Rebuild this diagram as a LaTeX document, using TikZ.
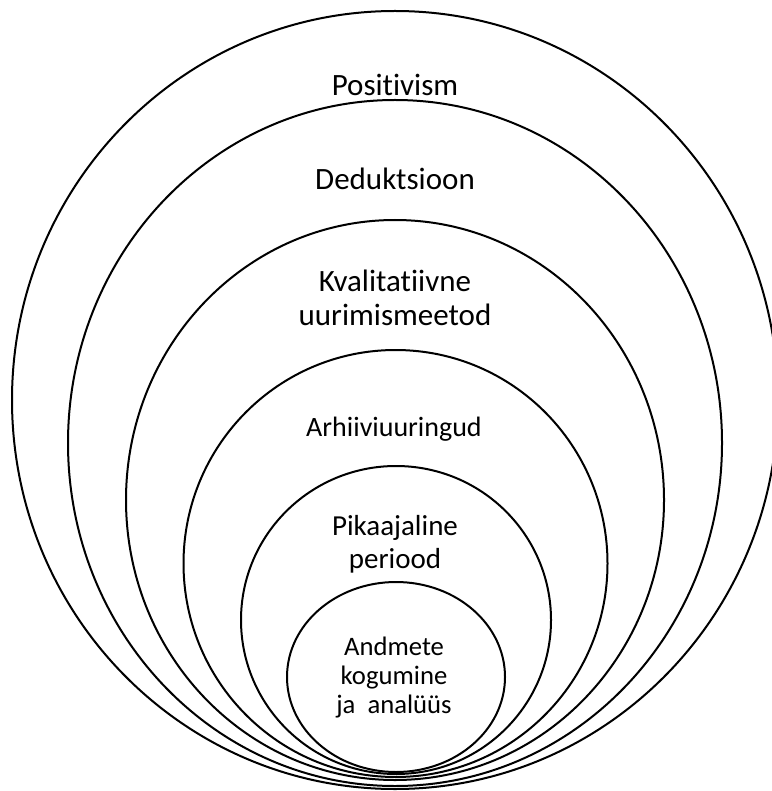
\documentclass[tikz,border=0pt]{standalone}
\usepackage{fontspec}
\setmainfont{Carlito}[Ligatures={NoCommon}]
\usetikzlibrary{shapes.geometric}

\begin{document}
\begin{tikzpicture}[x=0.75pt,y=-0.75pt,
		ring/.style={ellipse,draw,line width=1.5pt,inner sep=0pt},
		lbl/.style={anchor=base,align=center,inner sep=0pt}]
			\useasboundingbox (0,0) rectangle (771,791);
			\draw (395,400) node [ring,minimum width=574.5pt,minimum height=583.5pt] (pos) {};
			\draw (395,443) node [ring,minimum width=490.5pt,minimum height=514.5pt] (ded) {};
			\draw (395,500) node [ring,minimum width=403.5pt,minimum height=420pt] (kva) {};
			\draw (395.5,563.5) node [ring,minimum width=318pt,minimum height=320.25pt] (arh) {};
			\draw (396,620) node [ring,minimum width=232.5pt,minimum height=231pt] (pik) {};
			\draw (396,677) node [ring,minimum width=163.5pt,minimum height=142.5pt] (and) {};
			% base of a two or three line label is its last line
			\draw (395,96) node [lbl,font=\fontsize{23.25pt}{24.75pt}\selectfont] (posl) {Positivism};
			\draw (395,190) node [lbl,font=\fontsize{23.25pt}{24.75pt}\selectfont] (dedl) {Deduktsioon};
			\draw (395,325) node [lbl,font=\fontsize{23.25pt}{24.75pt}\selectfont] (kval) {Kvalitatiivne\\uurimismeetod};
			\draw (394,436) node [lbl,font=\fontsize{21pt}{24.75pt}\selectfont] (arhl) {Arhiiviuuringud};
			\draw (395,568) node [lbl,font=\fontsize{21.75pt}{24.75pt}\selectfont] (pikl) {Pikaajaline\\periood};
			\draw (394,713) node [lbl,font=\fontsize{20pt}{21.75pt}\selectfont] (andl) {Andmete\\kogumine\\ja~ analüüs};
\end{tikzpicture}
\end{document}
